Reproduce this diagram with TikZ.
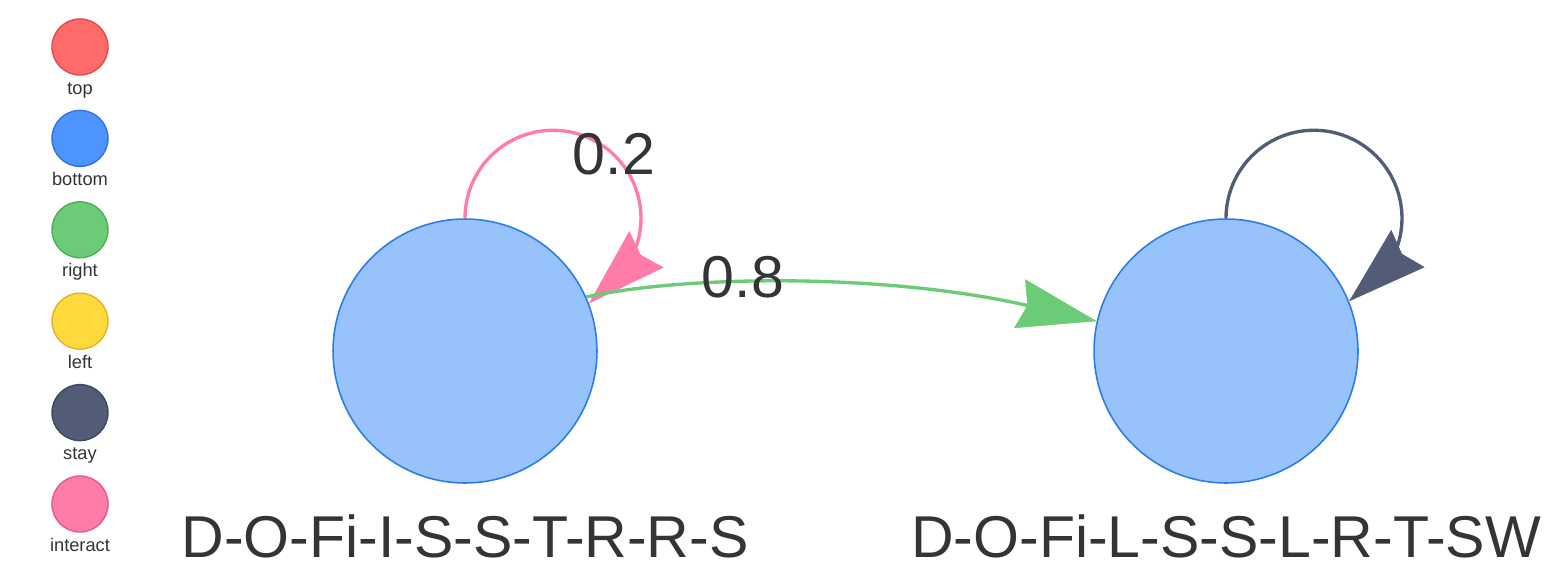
\documentclass[tikz,border=0pt]{standalone}
\usepackage{fontspec}
\setmainfont{Liberation Sans}
\usetikzlibrary{arrows.meta}
\definecolor{nodefill}{HTML}{97C2FC}
\definecolor{nodeline}{HTML}{2B7CE9}
\definecolor{txtgray}{HTML}{343434}
\definecolor{topfill}{HTML}{FF6B6B}
\definecolor{topline}{HTML}{E04A4A}
\definecolor{bottomfill}{HTML}{4D94FF}
\definecolor{bottomline}{HTML}{2C74E0}
\definecolor{rightfill}{HTML}{6BCB77}
\definecolor{rightline}{HTML}{4DAF5B}
\definecolor{leftfill}{HTML}{FFD93D}
\definecolor{leftline}{HTML}{E0B428}
\definecolor{stayfill}{HTML}{525C76}
\definecolor{stayline}{HTML}{3E475E}
\definecolor{interactfill}{HTML}{FF7BAA}
\definecolor{interactline}{HTML}{E25A8A}
\begin{document}
\begin{tikzpicture}[x=0.02cm,y=-0.02cm,
  state/.style={circle,draw=nodeline,fill=nodefill,line width=0.9pt,minimum size=5.28cm,inner sep=0pt},
  legendkey/.style={circle,line width=0.8pt,minimum size=1.12cm,inner sep=0pt},
  bigtext/.style={text=txtgray,font=\fontsize{33.6}{40}\selectfont,inner sep=0pt},
  smalltext/.style={text=txtgray,font=\fontsize{10.4}{12}\selectfont,inner sep=0pt},
  edge/.style={line width=1.9pt},
  bigtip/.style={-{Stealth[length=1.58cm,width=1.0cm,inset=0.16cm,line width=0.3pt]}}]
\useasboundingbox (0,0) rectangle (1557,575);

% legend
\foreach \lab [count=\i from 0] in {top,bottom,right,left,stay,interact}{
  \node[legendkey,fill=\lab fill,draw=\lab line] (key\lab) at (80,{47+91.4*\i}) {};
  \node[smalltext,anchor=base] (name\lab) at (80,{94+91.4*\i}) {\lab};
}

% states
\node[state] (istate) at (465,351) {};
\node[state] (lstate) at (1226,351) {};
\node[bigtext,anchor=base] (iname) at (465,557) {D-O-Fi-I-S-S-T-R-R-S};
\node[bigtext,anchor=base] (lname) at (1226,557) {D-O-Fi-L-S-S-L-R-T-SW};

% interact loop
\draw[interactfill,edge] (istate.north) arc[start angle=180,end angle=-19,radius=1.76cm];
\coordinate (ibase) at (638.6,256.7);
\draw[interactfill,edge,bigtip] (ibase) -- (istate.21.5);

% right edge
\draw[rightfill,edge,bigtip] (istate.24) .. controls (680,276) and (880,272) .. (lstate.167);

% stay loop
\draw[stayfill,edge] (lstate.north) arc[start angle=180,end angle=-19,radius=1.76cm];
\coordinate (lbase) at (1399.5,256.1);
\draw[stayfill,edge,bigtip] (lbase) -- (lstate.22);

% weights
\node[bigtext] (wloop) at (614,154) {0.2};
\node[bigtext] (wright) at (743,277) {0.8};
\end{tikzpicture}
\end{document}
